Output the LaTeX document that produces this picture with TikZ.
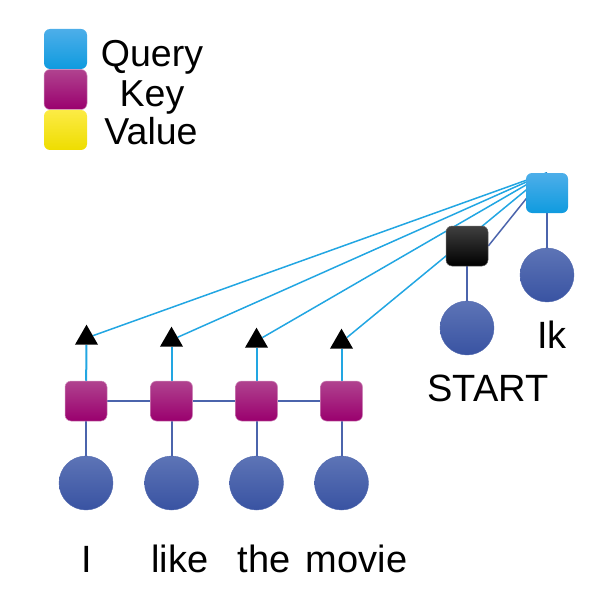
\documentclass[tikz,border=0pt]{standalone}
\usepackage{fontspec}
\setmainfont{Liberation Sans}
\usetikzlibrary{shapes.geometric,backgrounds}
\definecolor{qtop}{HTML}{4DAEE9}
\definecolor{qbot}{HTML}{0F9BDF}
\definecolor{ktop}{HTML}{B0438F}
\definecolor{kbot}{HTML}{9A006E}
\definecolor{vtop}{HTML}{FCEB45}
\definecolor{vbot}{HTML}{EEDD00}
\definecolor{ctop}{HTML}{5D74B6}
\definecolor{cbot}{HTML}{3953A2}
\definecolor{lblue}{HTML}{22A6E2}
\definecolor{lgray}{HTML}{4B64AC}
\begin{document}
\begin{tikzpicture}[x=1pt,y=-1pt,
  box/.style={rectangle, rounded corners=6pt, minimum width=42pt, minimum height=40pt, inner sep=0pt},
  qbox/.style={box, top color=qtop, bottom color=qbot},
  kbox/.style={box, top color=ktop, bottom color=kbot, draw=ktop!60!white, line width=0.5pt},
  vbox/.style={box, top color=vtop, bottom color=vbot},
  bbox/.style={box, top color=black!75, bottom color=black, draw=black!60, line width=0.5pt},
  circ/.style={circle, minimum size=54pt, inner sep=0pt, top color=ctop, bottom color=cbot, draw=ctop!60!cbot, line width=0.4pt},
  tri/.style={regular polygon, regular polygon sides=3, minimum size=26.6pt, inner sep=0pt, fill=black},
  lbl/.style={font=\fontsize{38}{40}\selectfont, anchor=base, inner sep=0pt},
  leg/.style={font=\fontsize{37.5}{40}\selectfont, anchor=base, inner sep=0pt},
  att/.style={draw=lblue, line width=1.5pt},
  up/.style={draw=lblue, line width=2pt},
  link/.style={draw=lgray, line width=2pt}
]
\useasboundingbox (0,0) rectangle (593,604);

% legend
\node[qbox, minimum width=43pt] (lq) at (65.5,49) {};
\node[kbox, minimum width=43pt] (lk) at (65.5,89.5) {};
\node[vbox, minimum width=43pt] (lv) at (65.5,130) {};
\node[leg] (tq) at (152,67) {Query};
\node[leg] (tk) at (152,107) {Key};
\node[leg] (tv) at (151,145) {Value};

% encoder keys
\node[kbox] (k1) at (86,401) {};
\node[kbox] (k2) at (171.5,401) {};
\node[kbox] (k3) at (256.5,401) {};
\node[kbox] (k4) at (341.5,401) {};
% inputs
\node[circ] (c1) at (86,483) {};
\node[circ] (c2) at (171.5,483) {};
\node[circ] (c3) at (256.5,483) {};
\node[circ] (c4) at (341.5,483) {};
% triangles
\node[tri] (t1) at (86.5,338) {};
\node[tri] (t2) at (171.5,340) {};
\node[tri] (t3) at (256.5,341) {};
\node[tri] (t4) at (341.5,342) {};
% decoder
\node[qbox] (q) at (547,193) {};
\node[bbox] (s) at (467,246) {};
\node[circ] (cs) at (467,328) {};
\node[circ] (ck) at (547,275) {};

% labels
\node[lbl] (w1) at (87,572) {I};
\node[lbl] (w2) at (180,572) {like};
\node[lbl] (w3) at (264,572) {the};
\node[lbl] (w4) at (356.5,572) {movie};
\node[lbl] (ws) at (488,401) {START};
\node[lbl] (wk) at (552,348) {Ik};

\begin{scope}[on background layer]
  \draw[link] (k1) -- (k2);
  \draw[link] (k2) -- (k3);
  \draw[link] (k3) -- (k4);
  \draw[link] (k1) -- (c1);
  \draw[link] (k2) -- (c2);
  \draw[link] (k3) -- (c3);
  \draw[link] (k4) -- (c4);
  \draw[up] (k1) -- (t1);
  \draw[up] (k2) -- (t2);
  \draw[up] (k3) -- (t3);
  \draw[up] (k4) -- (t4);
  \draw[link] (s) -- (cs);
  \draw[link] (q) -- (ck);
  \draw[att] (q.north) -- (t1);
  \draw[att] (q.north) -- (t2);
  \draw[att] (q.north) -- (t3);
  \draw[att] (q.north) -- (t4);
  \draw[link, line width=1.5pt] (q.north) -- (s.east);
\end{scope}
\end{tikzpicture}
\end{document}
